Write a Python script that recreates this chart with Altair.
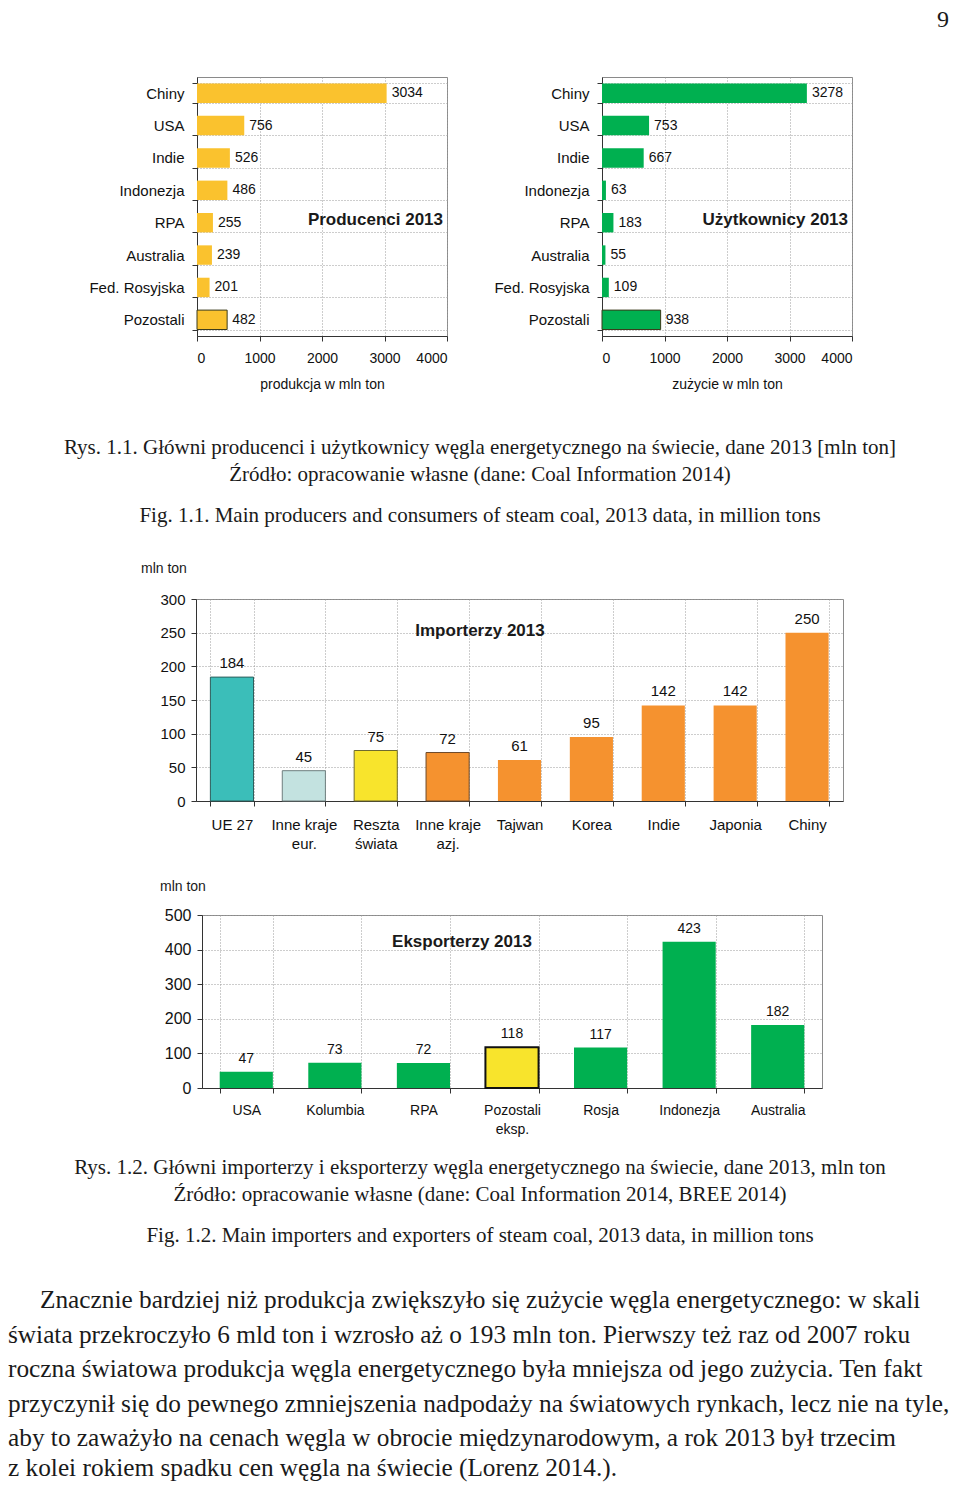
import altair as alt
import pandas as pd

# ---------------- data ----------------
prod_countries = ["Chiny", "USA", "Indie", "Indonezja", "RPA", "Australia", "Fed. Rosyjska", "Pozostali"]
prod_values = [3034, 756, 526, 486, 255, 239, 201, 482]
cons_countries = ["Chiny", "USA", "Indie", "Indonezja", "RPA", "Australia", "Fed. Rosyjska", "Pozostali"]
cons_values = [3278, 753, 667, 63, 183, 55, 109, 938]

imp_countries = ["UE 27", "Inne kraje\neur.", "Reszta\nświata", "Inne kraje\nazj.", "Tajwan", "Korea", "Indie", "Japonia", "Chiny"]
imp_values = [184, 45, 75, 72, 61, 95, 142, 142, 250]
imp_colors = ["#3BBEB9", "#C3E2E0", "#F8E42C", "#F5922F", "#F5922F", "#F5922F", "#F5922F", "#F5922F", "#F5922F"]
imp_strokes = ["#2E5E5C", "#6E7E7E", "#6E6A30", "#6E4A2A", "#F5922F", "#F5922F", "#F5922F", "#F5922F", "#F5922F"]
imp_strokew = [1, 1, 1, 1, 0, 0, 0, 0, 0]

exp_countries = ["USA", "Kolumbia", "RPA", "Pozostali\neksp.", "Rosja", "Indonezja", "Australia"]
exp_values = [47, 73, 72, 118, 117, 423, 182]
exp_colors = ["#00B050", "#00B050", "#00B050", "#F8E42C", "#00B050", "#00B050", "#00B050"]
exp_strokes = ["#00B050", "#00B050", "#00B050", "#111111", "#00B050", "#00B050", "#00B050"]
exp_strokew = [0, 0, 0, 2, 0, 0, 0]

imp_ticks = [0, 50, 100, 150, 200, 250, 300]
exp_ticks = [0, 100, 200, 300, 400, 500]
hbar_ticks = [0, 1000, 2000, 3000, 4000]

caption1 = [
    "Rys. 1.1. Główni producenci i użytkownicy węgla energetycznego na świecie, dane 2013 [mln ton]",
    "Źródło: opracowanie własne (dane: Coal Information 2014)",
    "Fig. 1.1. Main producers and consumers of steam coal, 2013 data, in million tons",
]
caption2 = [
    "Rys. 1.2. Główni importerzy i eksporterzy węgla energetycznego na świecie, dane 2013, mln ton",
    "Źródło: opracowanie własne (dane: Coal Information 2014, BREE 2014)",
    "Fig. 1.2. Main importers and exporters of steam coal, 2013 data, in million tons",
]
paragraph = [
    "Znacznie bardziej niż produkcja zwiększyło się zużycie węgla energetycznego: w skali",
    "świata przekroczyło 6 mld ton i wzrosło aż o 193 mln ton. Pierwszy też raz od 2007 roku",
    "roczna światowa produkcja węgla energetycznego była mniejsza od jego zużycia. Ten fakt",
    "przyczynił się do pewnego zmniejszenia nadpodaży na światowych rynkach, lecz nie na tyle,",
    "aby to zaważyło na cenach węgla w obrocie międzynarodowym, a rok 2013 był trzecim",
    "z kolei rokiem spadku cen węgla na świecie (Lorenz 2014.).",
]
page_number = "9"
unit_label = "mln ton"

SANS = "Liberation Sans"
SERIF = "Liberation Serif"
FRAME = alt.ViewBackground(stroke="#8a8a8a", strokeWidth=1)
NOFRAME = alt.ViewBackground(stroke=None)
GRID = dict(grid=True, gridColor="#9a9a9a", gridDash=[1, 2], gridWidth=1, labelOverlap=False)
TOP = 15  # fixed head-room above each chart row


def spacer(w, h, top_anchor=False):
    # invisible marker; when top_anchor is set it sits TOP px above the cell so every
    # chart row has the same, known head-room for its overflowing axis labels
    return alt.Chart(pd.DataFrame({"a": [0]})).mark_point(
        opacity=0, size=4, filled=True, strokeWidth=0
    ).encode(
        x=alt.value(w / 2), y=alt.value(-(TOP - 1) if top_anchor else h / 2)
    ).properties(width=w, height=h, view=NOFRAME)


def text_layer(txt, x, y, size, font=SERIF, align="center", weight="normal", baseline="middle"):
    return alt.Chart(pd.DataFrame({"t": [txt]})).mark_text(
        font=font, fontSize=size, align=align, baseline=baseline, color="#1a1a1a", fontWeight=weight
    ).encode(text="t:N", x=alt.value(x), y=alt.value(y))


# ---------------- horizontal bar charts ----------------
def hbar(countries, values, color, axis_title, title_text, W=250, H=259):
    df = pd.DataFrame({"kraj": countries, "v": values,
                       "sw": [0] * (len(countries) - 1) + [1]})
    yscale = alt.Scale(paddingInner=0.4, paddingOuter=0.2)
    xscale = alt.Scale(domain=[0, 4000], nice=False)
    yaxis = alt.Axis(tickBand="extent", labelFont=SANS, labelFontSize=15, labelColor="#111",
                     labelPadding=8, tickSize=5, tickColor="#333", domainColor="#333", **GRID)
    xaxis = alt.Axis(values=hbar_ticks, format="d", labelFont=SANS,
                     labelFontSize=14, labelColor="#111", labelPadding=10, tickSize=5,
                     tickColor="#333", domainColor="#333", titleFont=SANS, titleFontSize=14,
                     titleFontWeight="normal", titleColor="#111", titlePadding=12, **GRID)
    x = alt.X("v:Q", title=axis_title, scale=xscale, axis=xaxis)
    y = alt.Y("kraj:N", sort=countries, title=None, scale=yscale, axis=yaxis)
    bars = alt.Chart(df).mark_bar(color=color, stroke="#3a3a1a").encode(
        x=x, y=y, strokeWidth=alt.StrokeWidth("sw:Q", scale=None, legend=None))
    labels = alt.Chart(df).mark_text(align="left", dx=5, font=SANS, fontSize=14, color="#111").encode(
        x=x, y=y, text="v:Q")
    title = text_layer(title_text, W - 4, 143, 17, font=SANS, align="right", weight="bold")
    return alt.layer(bars, labels, title).properties(width=W, height=H, view=FRAME)


prod = hbar(prod_countries, prod_values, "#FAC22E", "produkcja w mln ton", "Producenci 2013")
cons = hbar(cons_countries, cons_values, "#00B050", "zużycie w mln ton", "Użytkownicy 2013")


# ---------------- vertical bar charts ----------------
def vbar(countries, values, colors, strokes, sws, ymax, yticks, title_text, title_x, title_y, W, H,
         ylab_size, xlab_size, val_size, xpad):
    df = pd.DataFrame({"kraj": countries, "v": values, "c": colors, "s": strokes, "sw": sws})
    xscale = alt.Scale(paddingInner=0.4, paddingOuter=0.2)
    yscale = alt.Scale(domain=[0, ymax], nice=False)
    xaxis = alt.Axis(tickBand="extent", labelAngle=0, labelFont=SANS, labelFontSize=xlab_size,
                     labelColor="#111", labelPadding=xpad, tickSize=5, tickColor="#333",
                     domainColor="#333", labelLineHeight=19,
                     labelExpr="split(datum.label, '\\n')", **GRID)
    yaxis = alt.Axis(values=yticks, labelFont=SANS, labelFontSize=ylab_size,
                     labelColor="#111", labelPadding=6, tickSize=5, tickColor="#333",
                     domainColor="#333", **GRID)
    x = alt.X("kraj:N", sort=countries, title=None, scale=xscale, axis=xaxis)
    y = alt.Y("v:Q", title=None, scale=yscale, axis=yaxis)
    bars = alt.Chart(df).mark_bar().encode(
        x=x, y=y,
        fill=alt.Fill("c:N", scale=None, legend=None),
        stroke=alt.Stroke("s:N", scale=None, legend=None),
        strokeWidth=alt.StrokeWidth("sw:Q", scale=None, legend=None))
    labels = alt.Chart(df).mark_text(baseline="bottom", dy=-6, font=SANS, fontSize=val_size, color="#111").encode(
        x=x, y=y, text="v:Q")
    title = text_layer(title_text, title_x, title_y, 17, font=SANS, weight="bold")
    return alt.layer(bars, labels, title).properties(width=W, height=H, view=FRAME)


imp = vbar(imp_countries, imp_values, imp_colors, imp_strokes, imp_strokew,
           300, imp_ticks, "Importerzy 2013", 284, 32, 647, 202, 15, 15, 15, 11)
exp = vbar(exp_countries, exp_values, exp_colors, exp_strokes, exp_strokew,
           500, exp_ticks, "Eksporterzy 2013", 260, 27, 620, 173, 16, 14, 14, 10)

# ---------------- rows (positions relative to each row) ----------------
CW = 944
CAP = 21
PAR = 25.3


def row(cells):
    return alt.hconcat(*cells, spacing=0, bounds="flush")


header = alt.layer(
    text_layer(page_number, CW - 3, 0, 24, align="right", baseline="top")
).properties(width=CW, height=54, view=NOFRAME)

R1 = 330
row1 = row([spacer(189, R1, True), prod, spacer(155, R1), cons, spacer(100, R1)])

cap1 = alt.layer(
    text_layer(caption1[0], CW / 2, 41, CAP),
    text_layer(caption1[1], CW / 2, 68, CAP),
    text_layer(caption1[2], CW / 2, 109, CAP),
    text_layer(unit_label, 133, 162, 14, font=SANS, align="left"),
).properties(width=CW, height=177, view=NOFRAME)

R3 = 262
row3 = row([spacer(188, R3, True), imp, spacer(109, R3)])

gap = alt.layer(
    text_layer(unit_label, 152, 26, 14, font=SANS, align="left"),
).properties(width=CW, height=39, view=NOFRAME)

R5 = 225
row5 = row([spacer(194, R5, True), exp, spacer(130, R5)])

para_layers = [
    text_layer(caption2[0], CW / 2, 28, CAP),
    text_layer(caption2[1], CW / 2, 55, CAP),
    text_layer(caption2[2], CW / 2, 96, CAP),
]
para_y = [160, 195, 229, 264, 298, 328]
for i, line in enumerate(paragraph):
    para_layers.append(text_layer(line, 32 if i == 0 else 0, para_y[i], PAR, align="left"))
bottom = alt.layer(*para_layers).properties(width=CW, height=341, view=NOFRAME)

chart = alt.vconcat(header, row1, cap1, row3, gap, row5, bottom,
                    spacing=0).properties(padding=0).configure_view(stroke=None)

chart.save("out.html", embed_options={"renderer": "svg", "actions": False})
